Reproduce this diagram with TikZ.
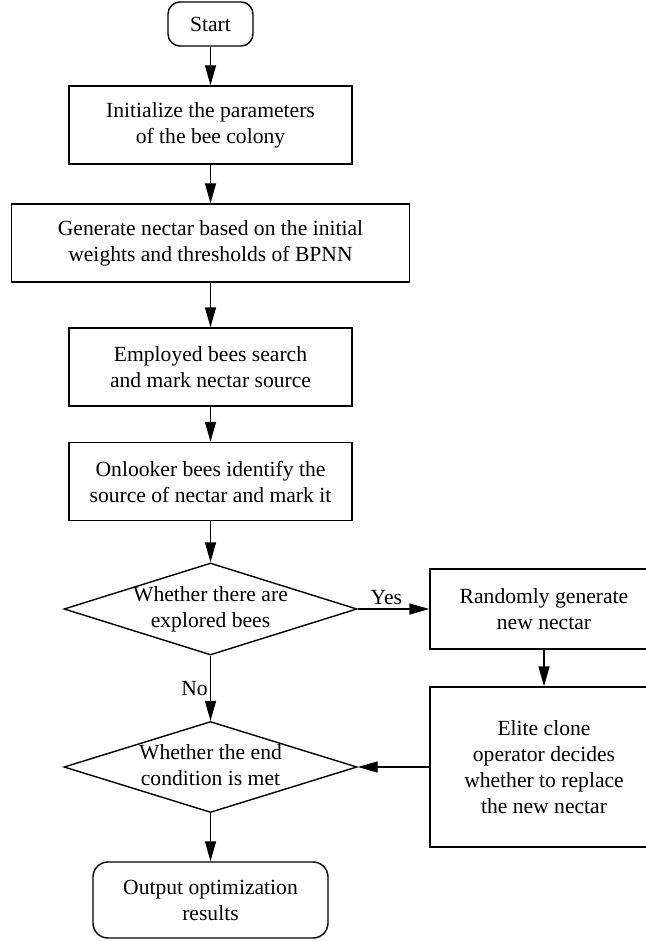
\documentclass[tikz,border=0pt]{standalone}
\usepackage{fontspec}
\setmainfont{Liberation Serif}
\usetikzlibrary{shapes.geometric,arrows.meta}
\newcommand{\dtext}[1]{\makebox[0pt]{\begin{tabular}{@{}c@{}}#1\end{tabular}}}
\begin{document}
\begin{tikzpicture}[x=0.5pt, y=-0.5pt, line width=0.7pt,
        >={Triangle[length=10pt,width=5.5pt]},
        every node/.style={font=\fontsize{10.8}{13}\selectfont, align=center},
        box/.style={draw, rectangle, minimum width=141.5pt, minimum height=39pt, inner sep=0pt},
        term/.style={draw, rounded corners=6pt, inner sep=0pt},
        decision/.style={draw, diamond, aspect=3.2, inner sep=0pt, minimum width=146.5pt, minimum height=46pt}]
        \useasboundingbox (0,0) rectangle (645,941);

        \node[term, minimum width=42.5pt, minimum height=22pt] (start) at (210.5,24) {Start};
        \node[box] (init) at (210.5,125) {Initialize the parameters\\of the bee colony};
        \node[box, minimum width=199pt] (gen) at (210.5,243) {Generate nectar based on the initial\\weights and thresholds of BPNN};
        \node[box] (emp) at (210.5,367) {Employed bees search\\and mark nectar source};
        \node[box] (onl) at (210.5,481.5) {Onlooker bees identify the\\source of nectar and mark it};
        \node[decision] (dec1) at (210.5,609) {\dtext{Whether there are\\explored bees}};
        \node[box, minimum width=114pt, minimum height=40pt] (rand) at (544,609) {Randomly generate\\new nectar};
        \node[box, minimum width=114pt, minimum height=80pt] (elite) at (544,767) {Elite clone\\operator decides\\whether to replace\\the new nectar};
        \node[decision, minimum height=45.5pt] (dec2) at (210.5,767) {\dtext{Whether the end\\condition is met}};
        \node[term, rounded corners=7.5pt, minimum width=117.5pt, minimum height=38pt] (out) at (210.5,900) {Output optimization\\results};

        \draw[->] (start) -- (init);
        \draw[->] (init) -- (gen);
        \draw[->] (gen) -- (emp);
        \draw[->] (emp) -- (onl);
        \draw[->] (onl) -- (dec1);
        \draw[->] (dec1) -- node[above, pos=0.4, inner sep=2pt] {Yes} (rand);
        \draw[->] (dec1) -- node[left, pos=0.5, inner sep=1pt] {No} (dec2);
        \draw[->] (rand) -- (elite);
        \draw[->] (elite) -- (dec2);
        \draw[->] (dec2) -- (out);

    \end{tikzpicture}
\end{document}
